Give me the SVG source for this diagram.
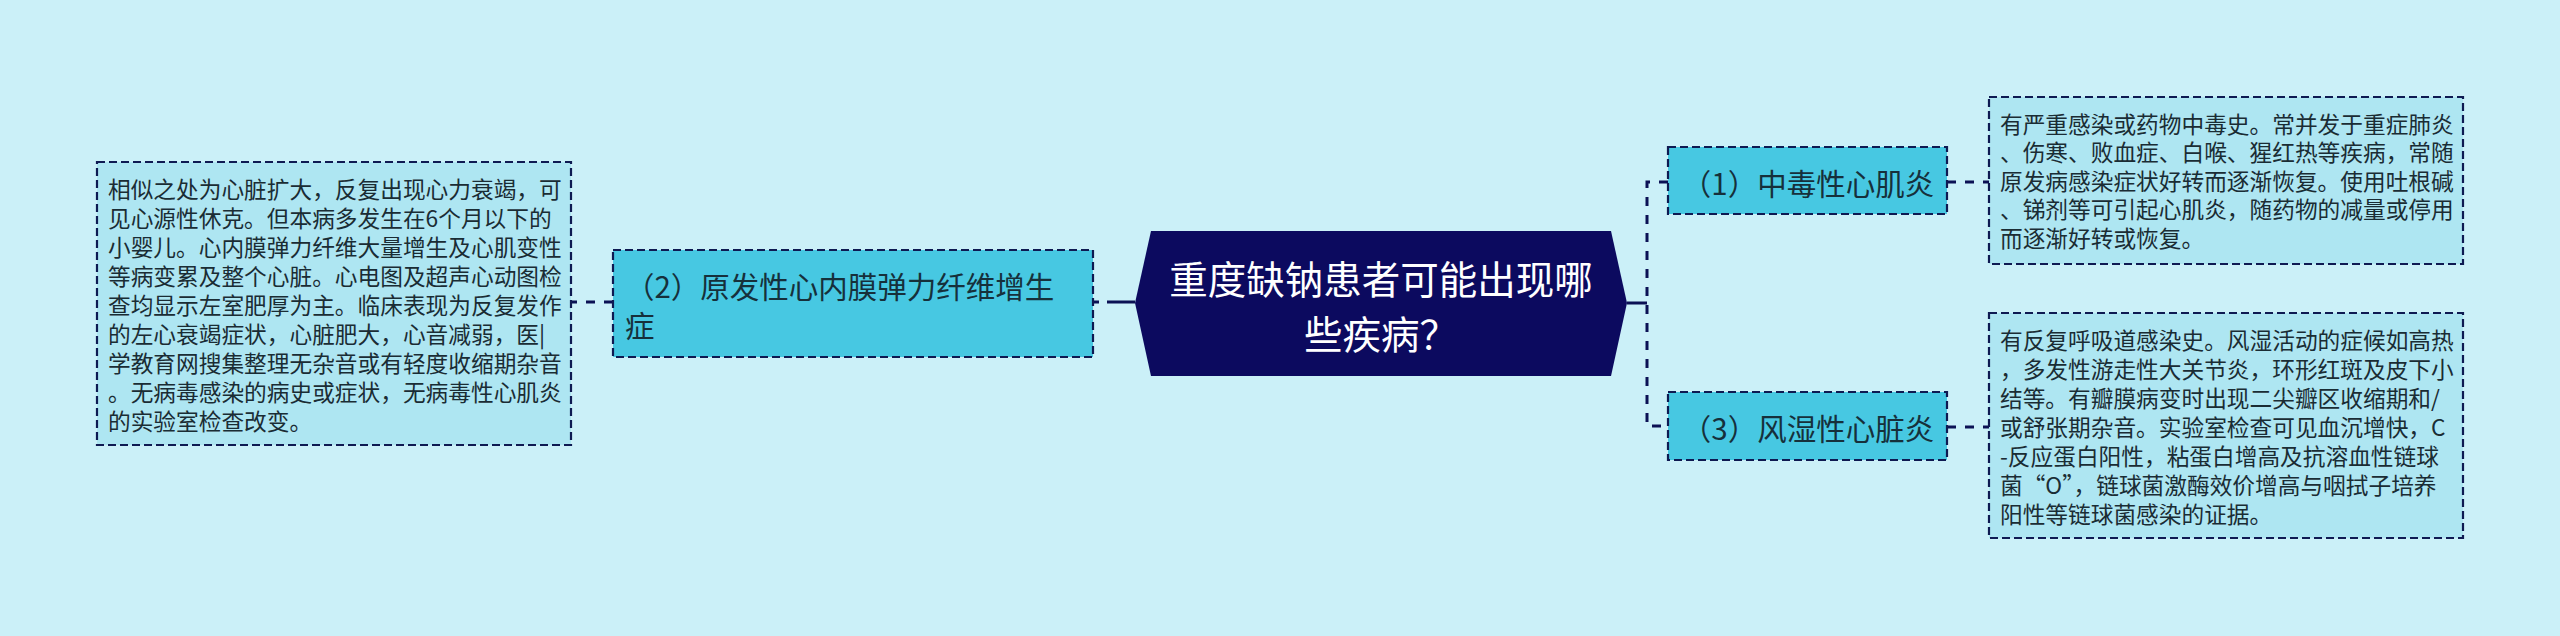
<svg xmlns="http://www.w3.org/2000/svg" width="2560" height="636" viewBox="0 0 2560 636">
<style>
.cjk{font-family:"Noto Sans CJK SC","Noto Sans",sans-serif}
.node rect{fill:#47C8E2;stroke:#0E1A52;stroke-width:2.2;stroke-dasharray:8 4}
.leaf rect{fill:#AEE6F2;stroke:#0E1A52;stroke-width:2.2;stroke-dasharray:8 4}
.nt{font-size:29.5px;fill:#16303B}
.lt{font-size:22.7px;fill:#1A2C34}
.conn{fill:none;stroke:#0B1154;stroke-width:3}
.dash{stroke-dasharray:9 9}
</style>
<rect width="2560" height="636" fill="#CBF0F8"/>
<g id="connectors">
  <path class="conn" d="M1627,303 H1647"/>
  <path class="conn dash" d="M1668,182 H1647 V426 H1668"/>
  <path class="conn dash" d="M1947,182 H1989"/>
  <path class="conn dash" d="M1947,427 H1989"/>
  <path class="conn" d="M1135,302 H1107"/>
  <path class="conn" d="M1099,302 H1093"/>
  <path class="conn dash" d="M613,302 H571"/>
</g>
<g id="root">
  <polygon points="1135,303 1151,231 1611,231 1627,303 1611,376 1151,376" fill="#0C0A5F"/>
  <text class="cjk" x="1381" y="277" font-size="38.5" fill="#FFFFFF" text-anchor="middle" dominant-baseline="central">重度缺钠患者可能出现哪</text>
  <text class="cjk" x="1381" y="332" font-size="38.5" fill="#FFFFFF" text-anchor="middle" dominant-baseline="central">些疾病？</text>
</g>
<g id="node2" class="node">
  <rect x="613" y="250" width="480" height="107"/>
  <text class="cjk nt" x="625" y="284.5" dominant-baseline="central">（2）原发性心内膜弹力纤维增生</text>
  <text class="cjk nt" x="625" y="323.5" dominant-baseline="central">症</text>
</g>
<g id="leaf2" class="leaf">
  <rect x="97" y="162" width="474" height="283"/>
  <text class="cjk lt" dominant-baseline="central">
    <tspan x="108" y="187.5">相似之处为心脏扩大，反复出现心力衰竭，可</tspan>
    <tspan x="108" y="216.5">见心源性休克。但本病多发生在6个月以下的</tspan>
    <tspan x="108" y="245.5">小婴儿。心内膜弹力纤维大量增生及心肌变性</tspan>
    <tspan x="108" y="274.5">等病变累及整个心脏。心电图及超声心动图检</tspan>
    <tspan x="108" y="303.5">查均显示左室肥厚为主。临床表现为反复发作</tspan>
    <tspan x="108" y="332.5">的左心衰竭症状，心脏肥大，心音减弱，医|</tspan>
    <tspan x="108" y="361.5">学教育网搜集整理无杂音或有轻度收缩期杂音</tspan>
    <tspan x="108" y="390.5">。无病毒感染的病史或症状，无病毒性心肌炎</tspan>
    <tspan x="108" y="419.5">的实验室检查改变。</tspan>
  </text>
</g>
<g id="node1" class="node">
  <rect x="1668" y="147" width="279" height="67"/>
  <text class="cjk nt" x="1808" y="182" text-anchor="middle" dominant-baseline="central">（1）中毒性心肌炎</text>
</g>
<g id="leaf1" class="leaf">
  <rect x="1989" y="97" width="474" height="167"/>
  <text class="cjk lt" dominant-baseline="central">
    <tspan x="2000" y="122.5">有严重感染或药物中毒史。常并发于重症肺炎</tspan>
    <tspan x="2000" y="151">、伤寒、败血症、白喉、猩红热等疾病，常随</tspan>
    <tspan x="2000" y="179.5">原发病感染症状好转而逐渐恢复。使用吐根碱</tspan>
    <tspan x="2000" y="208">、锑剂等可引起心肌炎，随药物的减量或停用</tspan>
    <tspan x="2000" y="236.5">而逐渐好转或恢复。</tspan>
  </text>
</g>
<g id="node3" class="node">
  <rect x="1668" y="392" width="279" height="68"/>
  <text class="cjk nt" x="1808" y="427" text-anchor="middle" dominant-baseline="central">（3）风湿性心脏炎</text>
</g>
<g id="leaf3" class="leaf">
  <rect x="1989" y="313" width="474" height="225"/>
  <text class="cjk lt" dominant-baseline="central">
    <tspan x="2000" y="339">有反复呼吸道感染史。风湿活动的症候如高热</tspan>
    <tspan x="2000" y="368">，多发性游走性大关节炎，环形红斑及皮下小</tspan>
    <tspan x="2000" y="397">结等。有瓣膜病变时出现二尖瓣区收缩期和/</tspan>
    <tspan x="2000" y="426">或舒张期杂音。实验室检查可见血沉增快，C</tspan>
    <tspan x="2000" y="455">-反应蛋白阳性，粘蛋白增高及抗溶血性链球</tspan>
    <tspan x="2000" y="484">菌“O”，链球菌激酶效价增高与咽拭子培养</tspan>
    <tspan x="2000" y="513">阳性等链球菌感染的证据。</tspan>
  </text>
</g>
</svg>
